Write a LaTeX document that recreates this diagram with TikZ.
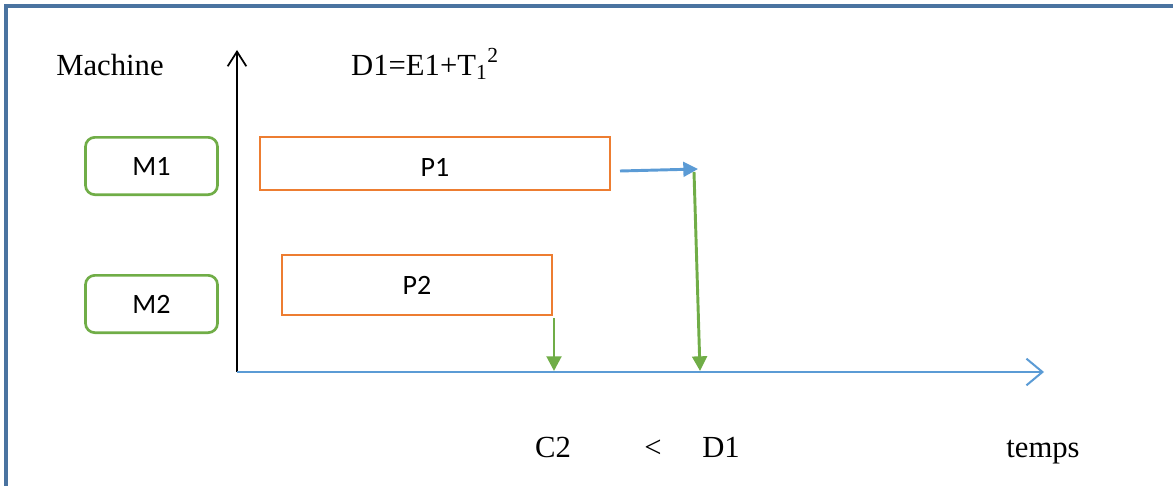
\documentclass[tikz,border=0pt]{standalone}
\usepackage{fontspec}
\setmainfont{Liberation Serif}
\newfontfamily\calfont{Carlito}
\usetikzlibrary{arrows.meta}
\definecolor{orng}{HTML}{ED7D31}
\definecolor{grn}{HTML}{70AD47}
\definecolor{blu}{HTML}{5B9BD5}
\definecolor{frm}{HTML}{4A73A0}
\tikzset{
  frameline/.style={draw=frm,line width=2.6pt},
  mbox/.style={draw=grn,line width=2pt,rounded corners=7pt,minimum width=99pt,minimum height=43pt,inner sep=0pt,font=\calfont\fontsize{21}{25}\selectfont},
  pbox/.style={draw=orng,line width=2.2pt,inner sep=0pt,font=\calfont\fontsize{21}{25}\selectfont},
  lbl/.style={anchor=base,inner sep=0pt,font=\fontsize{23}{27}\selectfont},
  yaxis/.style={draw=black,line width=1.6pt,-{Straight Barb[length=11pt,width=14pt,line width=1.3pt]}},
  taxis/.style={draw=blu,line width=2.2pt,-{Straight Barb[length=12pt,width=20pt,line width=1.5pt]}},
  bluearr/.style={draw=blu,line width=2.2pt,-{Triangle[length=11pt,width=11pt]}},
  grnarr/.style={draw=grn,line width=2.2pt,-{Triangle[length=11pt,width=11pt]}}
}
\begin{document}
\begin{tikzpicture}[x=0.75pt,y=-0.75pt]
\useasboundingbox (0,0) rectangle (1173,485);
\draw[frameline] (6,486) -- (6,6) -- (1174,6);

\node[mbox] (M1) at (151.5,166) {M1};
\node[mbox] (M2) at (151.5,304) {M2};
\node[pbox,minimum width=262.5pt,minimum height=39.75pt,text height=20pt,text depth=0pt] (P1) at (435,163.5) {P1};
\node[pbox,minimum width=202.5pt,minimum height=45pt] (P2) at (417,285) {P2};

\coordinate (O) at (237,372);
\coordinate (Y) at (237,50);
\coordinate (X) at (1044,372);
\draw[yaxis] (O) -- (Y);
\draw[taxis] (O) -- (X);

\coordinate (b0) at (620,171);
\coordinate (b1) at (698,169);
\coordinate (g0) at (694,172);
\coordinate (g1) at (700,371);
\coordinate (s0) at (554,318);
\coordinate (s1) at (554,371);
\draw[bluearr] (b0) -- (b1);
\draw[grnarr] (g0) -- (g1);
\draw[grnarr] (s0) -- (s1);

\node[lbl] (mach) at (110,75) {Machine};
\node[lbl] (form) at (425,75) {D1=E1+T\textsubscript{1}\textsuperscript{2}};
\node[lbl] (c2) at (553,457) {C2};
\node[lbl] (lt) at (653,457) {<};
\node[lbl] (d1) at (721,457) {D1};
\node[lbl] (tmp) at (1043,457) {temps};
\end{tikzpicture}
\end{document}
